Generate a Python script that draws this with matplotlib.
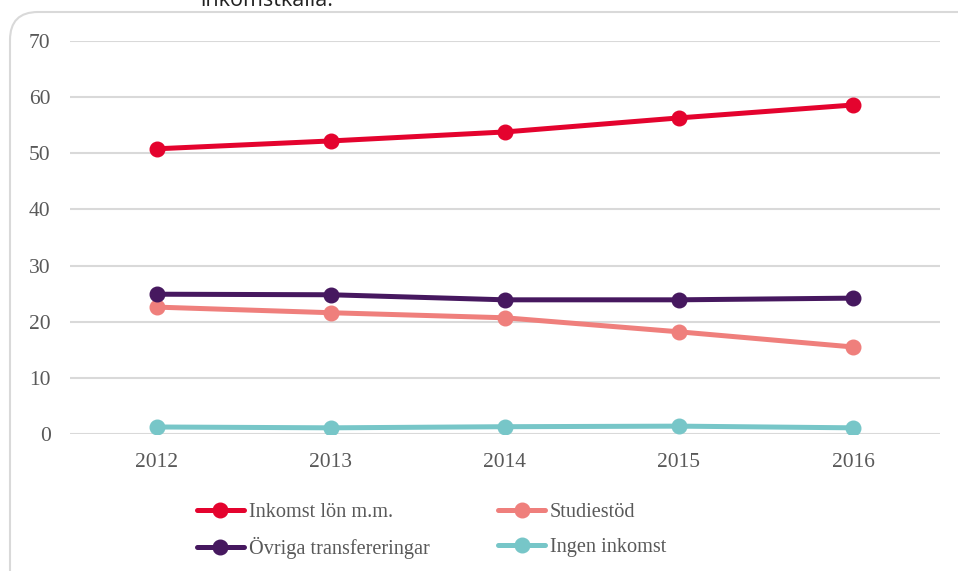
import matplotlib.pyplot as plt
import numpy as np
from matplotlib.patches import FancyBboxPatch

years = ['2012', '2013', '2014', '2015', '2016']
inkomst = [50.8, 52.2, 53.8, 56.3, 58.6]
studiestod = [22.6, 21.6, 20.7, 18.2, 15.5]
ovriga = [24.9, 24.8, 23.9, 23.9, 24.2]
ingen = [1.25, 1.1, 1.3, 1.4, 1.1]

series = [
    ('Inkomst lön m.m.', inkomst, '#E4032E'),
    ('Studiestöd', studiestod, '#EF7F7C'),
    ('Övriga transfereringar', ovriga, '#46185F'),
    ('Ingen inkomst', ingen, '#77C6C8'),
]

plt.rcParams['font.family'] = ['Liberation Serif', 'DejaVu Serif']

fig = plt.figure(figsize=(9.58, 5.71), dpi=100)
ax = fig.add_axes([70 / 958, 1 - 434 / 571, 870 / 958, 393 / 571])

# rounded frame round the chart, in pixels (runs off the right and bottom edge)
frame = FancyBboxPatch((10, -40), 1000, 571 - 12 + 40,
                       boxstyle='round,pad=0,rounding_size=28',
                       transform=None, facecolor='none',
                       edgecolor='#D9D9D9', linewidth=1.5)
fig.patches.append(frame)

# cut-off caption at the top
fig.text(200 / 958, 1 - 6 / 571, 'inkomstkälla.', fontsize=15.5,
         family=['Open Sans', 'DejaVu Sans'], color='#222222',
         ha='left', va='baseline')

x = np.arange(len(years)) + 0.5
for label, vals, col in series:
    ax.plot(x, vals, color=col, linewidth=3.6, marker='o', markersize=10.5,
            label=label, solid_capstyle='round')

ax.set_xlim(0, 5)
ax.set_ylim(0, 70)
ax.set_yticks(range(0, 71, 10))
ax.set_xticks(x)
ax.set_xticklabels(years)
ax.yaxis.grid(True, color='#D9D9D9', linewidth=1.5)
ax.set_axisbelow(True)
for s in ax.spines.values():
    s.set_visible(False)
ax.tick_params(axis='both', length=0, labelsize=15.5, labelcolor='#595959')
ax.tick_params(axis='y', pad=14)
ax.tick_params(axis='x', pad=14)

handles, labels = ax.get_legend_handles_labels()
order = [0, 2, 1, 3]
fig.legend([handles[i] for i in order], [labels[i] for i in order],
           ncol=2, loc='upper left', bbox_to_anchor=(197 / 958, 1 - 503 / 571),
           frameon=False, fontsize=14.6, handlelength=2.3, handletextpad=0.25,
           columnspacing=3.4, labelspacing=0.75, labelcolor='#595959',
           borderaxespad=0, borderpad=0)

fig.savefig('out.png', dpi=100)
